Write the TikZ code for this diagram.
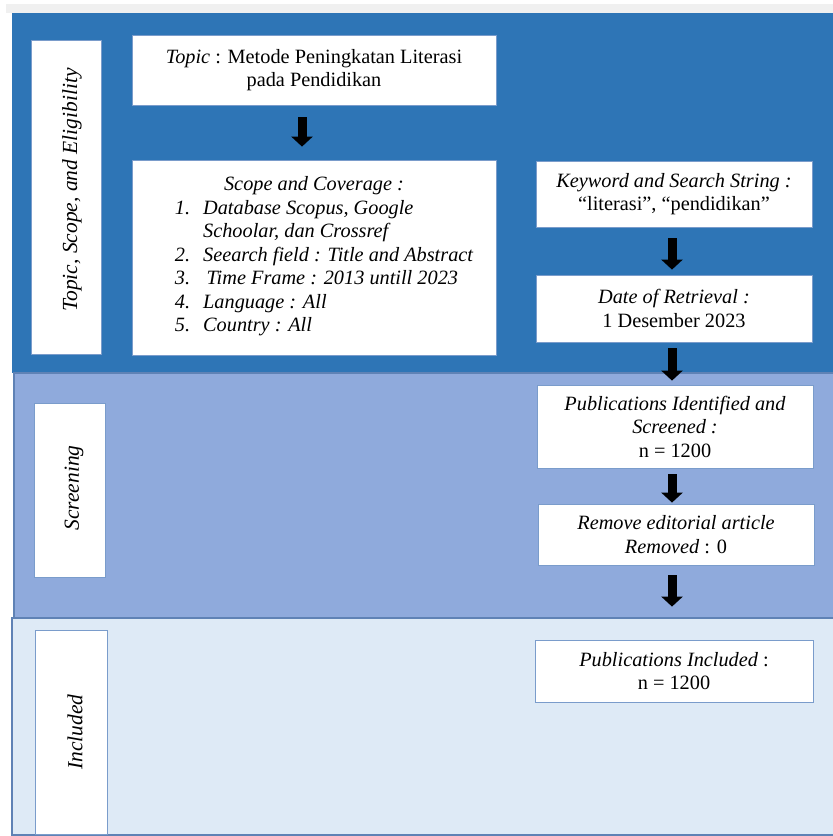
\documentclass[tikz,border=0pt]{standalone}
\usepackage{fontspec}
\setmainfont{Liberation Serif}
\usetikzlibrary{arrows.meta}
\definecolor{pone}{HTML}{2E75B6}
\definecolor{ptwo}{HTML}{8FAADC}
\definecolor{pthree}{HTML}{DEEAF6}
\definecolor{pedge}{HTML}{5F82B5}
\definecolor{bedge}{HTML}{7A9CCB}
\definecolor{strip}{HTML}{F0F0F0}
\begin{document}
\begin{tikzpicture}[x=1pt,y=-1pt,
  panel/.style={draw=pedge, line width=1.2pt},
  wbox/.style={draw=bedge, fill=white, line width=0.8pt, inner sep=0pt,
    font=\fontsize{20.3}{23.5}\selectfont, align=center},
  ltext/.style={rotate=90, inner sep=0pt, font=\fontsize{21.5}{24}\selectfont\itshape},
  blk/.style={line width=9pt, -{Triangle[width=21pt,length=10pt]}},
]
\useasboundingbox (0,0) rectangle (833,836);
\fill[white] (0,0) rectangle (833,836);
\fill[strip] (6,4) rectangle (833,13);
\fill[pone] (12,13) rectangle (833,373);
\draw[panel, fill=ptwo] (14,373) rectangle (834,618);
\draw[panel, fill=pthree] (12,618) rectangle (834,835);

% left labels
\node[wbox, minimum width=70pt, minimum height=314pt] (lab1) at (66,197) {};
\node[ltext] (lab1t) at (72,190) {Topic, Scope, and Eligibility};
\node[wbox, minimum width=71pt, minimum height=174pt] (lab2) at (69.5,490) {};
\node[ltext] (lab2t) at (74,488) {Screening};
\node[wbox, minimum width=72pt, minimum height=204pt] (lab3) at (71,732) {};
\node[ltext] (lab3t) at (75,732) {Included};

% left column
\node[wbox, minimum width=364pt, minimum height=70pt] (topic) at (314,70)
  {{\itshape Topic} : Metode Peningkatan Literasi\\pada Pendidikan};
\node[wbox, minimum width=364pt, minimum height=195pt] (scope) at (314,257.5)
  {\itshape Scope and Coverage :\\
   \itshape\hspace{20pt}\begin{tabular}[t]{@{}l@{\hspace{13pt}}l@{}}
   1. & Database Scopus, Google\\
      & Schoolar, dan Crossref\\
   2. & Seearch field : Title and Abstract\\
   3. & \,Time Frame : 2013 untill 2023\\
   4. & Language : All\\
   5. & Country : All
   \end{tabular}};

% right column
\node[wbox, minimum width=276pt, minimum height=66pt] (kw) at (674,194)
  {{\itshape Keyword and Search String :}\\“literasi”, “pendidikan”};
\node[wbox, minimum width=276pt, minimum height=67pt] (date) at (674,308.5)
  {{\itshape Date of Retrieval :}\\1 Desember 2023};
\node[wbox, minimum width=276pt, minimum height=83pt] (pid) at (675,426.5)
  {{\itshape Publications Identified and}\\{\itshape Screened :}\\n = 1200};
\node[wbox, minimum width=276pt, minimum height=61pt] (rem) at (676,534.5)
  {{\itshape Remove editorial article}\\{\itshape Removed} : 0};
\node[wbox, minimum width=278pt, minimum height=62pt] (inc) at (674,671)
  {{\itshape Publications Included} :\\n = 1200};

% arrows
\draw[blk, shorten <=12pt, shorten >=13pt] ([xshift=-12pt]topic.south) -- ([xshift=-12pt]scope.north);
\draw[blk, shorten <=11pt, shorten >=5pt] ([xshift=-2pt]kw.south) -- ([xshift=-2pt]date.north);
\draw[blk, shorten <=6pt, shorten >=4pt] ([xshift=-2pt]date.south) -- ([xshift=-2pt]date.south |- pid.north);
\draw[blk, shorten <=6pt, shorten >=1pt] ([xshift=-3pt]pid.south) -- ([xshift=-3pt]pid.south |- rem.north);
\draw[blk, shorten <=10pt, shorten >=33pt] ([xshift=-4pt]rem.south) -- ([xshift=-4pt]rem.south |- inc.north);
\end{tikzpicture}
\end{document}
